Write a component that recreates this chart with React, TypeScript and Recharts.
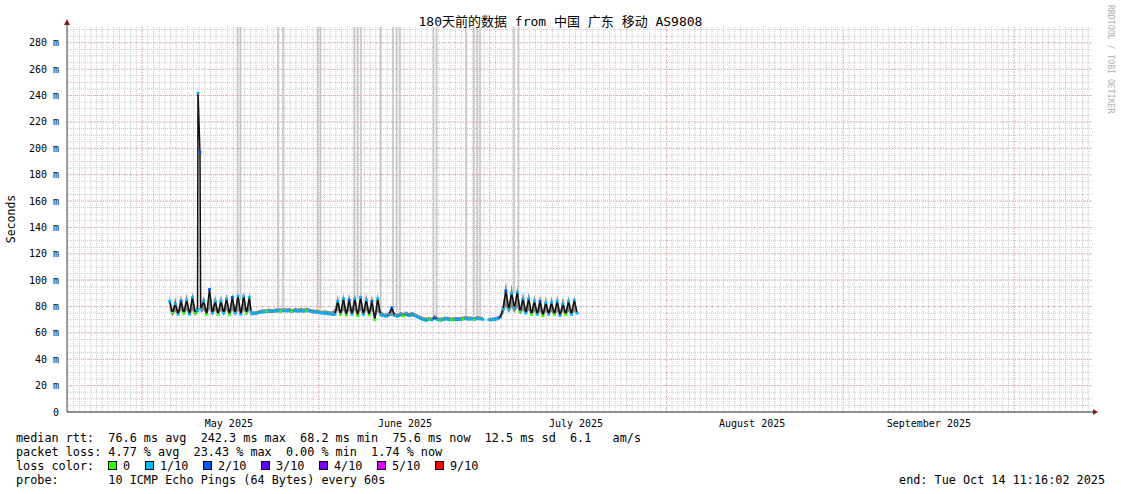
import React from 'react';
import { ComposedChart, XAxis, YAxis, CartesianGrid, Area, Line, ReferenceLine } from 'recharts';

// ---- time samples (days since graph start) ----
const sampleDay = [
  18, 18.5, 19, 19.5, 20, 20.5, 21, 21.5, 22, 22.5, 22.9, 22.98, 23.33, 23.45, 24, 24.5, 25, 25.5, 26, 26.5, 27, 27.5, 28, 28.5, 29, 29.5, 30, 30.5, 31, 31.5, 32, 32.3,
  32.5, 33, 33.5, 34, 34.5, 35, 35.5, 36, 36.5, 37, 37.5, 38, 38.5, 39, 39.5, 40, 40.5, 41, 41.5, 42, 42.5, 43, 43.5, 44, 44.5, 45, 45.5, 46, 46.5,
  47, 47.5, 48, 48.5, 49, 49.5, 50, 50.5, 51, 51.5, 52, 52.5, 53, 53.5, 54, 54.5, 55,
  55.5, 56, 56.5, 57, 57.5, 58, 58.5, 59, 59.5, 60, 60.5, 61, 61.5, 62,
  62.5, 63, 63.5, 64, 64.5, 65, 65.5, 66, 66.5, 67, 67.5, 68, 68.5, 69, 69.5, 70, 70.5, 71, 71.5, 72, 72.5, 73, 73.5, 74, 74.5, 75, 75.5, 76,
  76.5, 77, 77.5, 78, 78.5, 79, 79.5, 80, 80.5, 81, 81.5, 82, 82.5, 83, 83.5, 84, 84.5, 85, 85.5, 86, 86.5, 87, 87.5, 88, 88.5, 89, 89.5,
];

// median rtt (ms)
const medianRtt: (number | null)[] = [
  84, 75, 82, 74, 84, 75, 85, 74, 87, 75, 77, 242, 197, 78, 84, 74, 93, 75, 84, 74, 84, 75, 86, 74, 87, 75, 88, 74, 88, 75, 87, 76,
  74.5, 74.8, 75.2, 75.8, 76.0, 76.2, 76.5, 76.3, 76.6, 76.8, 76.5, 76.9, 76.7, 76.8, 76.4, 77.0, 76.6, 76.8, 76.5, 76.9, 76.7, 76.2, 75.8, 75.6, 75.3, 75.0, 74.8, 74.6, 74.2,
  74, 84, 74, 86, 73.5, 85, 74, 86, 73, 87, 74, 85, 73.5, 84, 70, 86, 74,
  73, 72.5, 74, 79, 73, 72.5, 74, 73, 74.5, 73, 74, 73, 72, 71,
  70, 69.5, 70, 69.8, 71.5, 70, 69.5, 70, 70.5, 70, 69.8, 70, 70.2, 70, 70.5, 70.8, 70.3, 70.5, 70, 70.8, 70.5, 70.2, null, 70, 69.8, 70, 70.5, 72,
  78, 92, 78, 90, 79, 91, 76, 86, 75, 86, 74, 84, 74, 84, 73, 83, 74, 83, 74, 84, 73, 82, 74, 84, 74, 85, 75,
];

// smoke (lowest / highest ping, ms)
const smokeLow: (number | null)[] = [
  77, 73, 76, 73, 77, 73, 77, 73, 77, 73, 75, 236, 192, 75, 77, 73, 78, 73, 77, 73, 77, 73, 77, 73, 77, 73, 77, 73, 77, 73, 77, 73,
  73.3, 73.5, 73.9, 74.5, 74.7, 74.9, 75.2, 75.0, 75.3, 75.5, 75.2, 75.6, 75.4, 75.5, 75.1, 75.7, 75.3, 75.5, 75.2, 75.6, 75.4, 74.9, 74.5, 74.3, 74.0, 73.7, 73.5, 73.3, 72.9,
  73, 77, 72.5, 77, 72.5, 77, 72.5, 77, 72, 77, 72.5, 77, 72.5, 77, 69, 76, 72.5,
  72, 71.5, 72.5, 73, 72, 71.5, 72.5, 72, 73, 72, 72.5, 72, 71, 70,
  69, 68.5, 69, 68.8, 70, 69, 68.5, 69, 69.5, 69, 68.8, 69, 69.2, 69, 69.5, 69.6, 69.3, 69.5, 69, 69.6, 69.5, 69.2, null, 69, 68.8, 69, 69.5, 70.5,
  74, 80, 75, 79, 75, 79, 74, 77, 73.5, 77, 73, 76, 73, 76, 72, 76, 73, 76, 73, 76, 72, 76, 73, 76, 73, 76, 73.5,
];
const smokeHigh: (number | null)[] = [
  89, 78, 87, 77, 89, 78, 90, 77, 91, 78, 80, 248, 203, 81, 88, 77, 95, 78, 89, 77, 89, 78, 90, 77, 90, 78, 91, 77, 91, 78, 91, 79,
  76.5, 76.5, 77, 77.5, 78, 78, 78.5, 78, 78.5, 79, 78.5, 79, 78.5, 79, 78, 79, 78.5, 79, 78.5, 79, 78.5, 78, 77.5, 77.5, 77, 77, 77, 76.5, 76.5,
  78, 89, 77, 90, 77, 90, 77, 91, 76, 91, 77, 90, 77, 89, 74, 90, 77,
  75, 74.5, 76, 81, 75, 74.5, 76, 75, 76.5, 75, 76, 75, 74, 73,
  72, 71.5, 72, 71.5, 74, 72, 71.5, 72, 72.5, 72, 71.5, 72, 72, 72, 72.5, 73, 72.5, 72.5, 72, 73, 72.5, 72, null, 71.5, 71.5, 72, 72.5, 74,
  82, 99, 81, 97, 82, 96, 79, 91, 78, 91, 77, 89, 77, 89, 76, 88, 77, 88, 77, 89, 76, 87, 77, 88, 77, 88, 77,
];

// loss level index per sample (0 = 0, 1 = 1/10, 2 = 2/10 ...)
const lossLevel = [
  1, 0, 1, 1, 2, 0, 1, 1, 1, 0, 1, 1, 2, 1, 1, 0, 2, 1, 1, 0, 1, 1, 1, 0, 2, 1, 1, 1, 1, 0, 1, 1,
  1, 1, 1, 1, 1, 0, 1, 1, 1, 1, 0, 1, 1, 1, 0, 1, 1, 1, 1, 0, 1, 1, 1, 1, 1, 1, 1, 1, 1,
  1, 1, 0, 1, 0, 2, 1, 1, 0, 1, 1, 1, 0, 2, 0, 1, 1,
  1, 1, 1, 2, 1, 1, 1, 0, 1, 1, 1, 1, 1, 1,
  1, 1, 0, 1, 2, 1, 0, 1, 1, 1, 0, 1, 1, 1, 0, 1, 1, 1, 0, 1, 1, 1, 1, 1, 1, 1, 1, 2,
  1, 2, 1, 1, 1, 1, 0, 1, 1, 1, 0, 1, 1, 2, 0, 1, 1, 1, 0, 1, 1, 1, 0, 1, 1, 1, 1,
];

// timeout smoke columns reaching the top of the graph
const lossSpikeDay = [29.91, 30.44, 37.02, 37.89, 43.95, 44.47, 50.44, 50.96, 51.58, 55.0, 57.19, 57.81, 58.42, 64.3, 64.82, 70.0, 71.4, 71.93, 72.46, 78.42, 79.21];
const lossSpikeBase = [88, 85, 78, 78, 78, 78, 88, 86, 88, 77, 80, 76, 76, 73, 73, 73, 73, 73, 73, 90, 92];

const monthStartDay = [13.17, 44.17, 74.17, 105.17, 136.17, 166.17];
const monthLabelDay = [28.4, 59.3, 89.3, 120.2, 151.2];
const monthLabels = ['May 2025', 'June 2025', 'July 2025', 'August 2025', 'September 2025'];
const yTicks = [0, 20, 40, 60, 80, 100, 120, 140, 160, 180, 200, 220, 240, 260, 280];
const yMax = 292;
const dayMax = 180;

const lossColors = ['#26ff00', '#00b8ff', '#0059ff', '#5e00ff', '#7e00ff', '#dd00ff', '#ff0000'];
const lossLabels = ['0', '1/10', '2/10', '3/10', '4/10', '5/10', '9/10'];
const lossBoxX = [108, 145, 203, 261, 319, 377, 435];

const minorDays = Array.from({ length: 180 }, (_, k) => 0.17 + k);
const minorMs = Array.from({ length: 58 }, (_, k) => 5 * (k + 1));

const data = sampleDay.map((d, i) => ({
  day: d,
  median: medianRtt[i],
  smoke: smokeHigh[i] == null ? null : [smokeLow[i], smokeHigh[i]],
  loss: lossLevel[i],
}));

const MONO = '"DejaVu Sans Mono", "Liberation Mono", monospace';

const xPix = (args: any, v: number) =>
  args.xAxis && typeof args.xAxis.scale === 'function' ? args.xAxis.scale(v) : args.offset.left + (v / dayMax) * args.offset.width;
const yPix = (args: any, v: number) =>
  args.yAxis && typeof args.yAxis.scale === 'function' ? args.yAxis.scale(v) : args.offset.top + (1 - v / yMax) * args.offset.height;

const LossDot = (p: any) => {
  if (p.cx == null || p.cy == null || p.payload == null || p.payload.median == null) return <g key={p.index} />;
  return <rect key={p.index} x={p.cx - 1.5} y={p.cy - 1.2} width={3} height={2.4} fill={lossColors[p.payload.loss]} />;
};

export default function App() {
  return (
    <div style={{ position: 'absolute', left: 0, top: 0, width: 1121, height: 494, background: '#fff' }}>
      <ComposedChart width={1121} height={494} data={data} margin={{ top: 27, right: 28, bottom: 62, left: 0 }}>
        <CartesianGrid
          stroke="#c8c8c8"
          strokeDasharray="1 1"
          verticalCoordinatesGenerator={(a: any) => minorDays.map((d) => xPix(a, d))}
          horizontalCoordinatesGenerator={(a: any) => minorMs.map((m) => yPix(a, m))}
        />
        <CartesianGrid
          stroke="#eea0a0"
          strokeDasharray="1 2"
          verticalCoordinatesGenerator={(a: any) => monthStartDay.map((d) => xPix(a, d))}
          horizontalCoordinatesGenerator={(a: any) => yTicks.filter((t) => t > 0).map((t) => yPix(a, t))}
        />
        <XAxis
          type="number"
          dataKey="day"
          domain={[0, dayMax]}
          allowDataOverflow
          ticks={monthLabelDay}
          interval={0}
          tickFormatter={(v: number) => monthLabels[monthLabelDay.indexOf(v)] ?? ''}
          tick={{ fontSize: 10, fill: '#000', fontFamily: MONO }}
          tickLine={false}
          axisLine={{ stroke: '#222' }}
          height={20}
        />
        <YAxis
          type="number"
          domain={[0, yMax]}
          allowDataOverflow
          ticks={yTicks}
          interval={0}
          width={67}
          tickFormatter={(v: number) => (v === 0 ? '0' : `${v} m`)}
          tick={{ fontSize: 10, fill: '#000', fontFamily: MONO }}
          tickLine={false}
          axisLine={{ stroke: '#444' }}
        />
        {lossSpikeDay.map((d, i) => (
          <ReferenceLine
            key={`ls${i}`}
            segment={[{ x: d, y: lossSpikeBase[i] }, { x: d, y: yMax }]}
            stroke="#c4c4c4"
            strokeWidth={1.6}
          />
        ))}
        <Area dataKey="smoke" type="linear" stroke="none" fill="#888888" fillOpacity={1} isAnimationActive={false} connectNulls={false} />
        <Line
          dataKey="median"
          type="linear"
          stroke="#111111"
          strokeWidth={1.5}
          dot={LossDot}
          activeDot={false}
          isAnimationActive={false}
          connectNulls={false}
        />
      </ComposedChart>
      <svg width={1121} height={494} style={{ position: 'absolute', left: 0, top: 0, pointerEvents: 'none' }}>
        <text x={560.5} y={26} textAnchor="middle" fontSize={13} fontFamily={`${MONO}, "Noto Sans CJK SC"`} fill="#000">
          180天前的数据 from 中国 广东 移动 AS9808
        </text>
        <text x={14.5} y={219} textAnchor="middle" fontSize={11.5} fontFamily={MONO} fill="#000" transform="rotate(-90 14.5 219)">
          Seconds
        </text>
        <text x={1108} y={5} fontSize={8.2} fontFamily={MONO} fill="#b0b0b0" transform="rotate(90 1108 5)">
          RRDTOOL / TOBI OETIKER
        </text>
        {/* axis extensions and arrows */}
        <line x1={67} y1={27} x2={67} y2={23} stroke="#444" />
        <polygon points="64,25 70,25 67,19" fill="#8b1a1a" />
        <line x1={1093} y1={412} x2={1095} y2={412} stroke="#222" />
        <polygon points="1093,409 1093,415 1098,412" fill="#8b1a1a" />
        <g fontFamily={MONO} fontSize={11.8} fill="#000">
          <text x={16} y={442} xmlSpace="preserve" style={{ whiteSpace: 'pre' }}>
            {'median rtt:  76.6 ms avg  242.3 ms max  68.2 ms min  75.6 ms now  12.5 ms sd  6.1   am/s'}
          </text>
          <text x={16} y={456} xmlSpace="preserve" style={{ whiteSpace: 'pre' }}>
            {'packet loss: 4.77 % avg  23.43 % max  0.00 % min  1.74 % now'}
          </text>
          <text x={16} y={470}>loss color:</text>
          {lossLabels.map((l, i) => (
            <g key={l}>
              <rect x={lossBoxX[i] + 0.5} y={461.5} width={8} height={8} fill={lossColors[i]} stroke="#000" strokeWidth={1} />
              <text x={lossBoxX[i] + 15} y={470}>{l}</text>
            </g>
          ))}
          <text x={16} y={484} xmlSpace="preserve" style={{ whiteSpace: 'pre' }}>
            {'probe:       10 ICMP Echo Pings (64 Bytes) every 60s'}
          </text>
          <text x={1105} y={484} textAnchor="end">end: Tue Oct 14 11:16:02 2025</text>
        </g>
      </svg>
    </div>
  );
}
